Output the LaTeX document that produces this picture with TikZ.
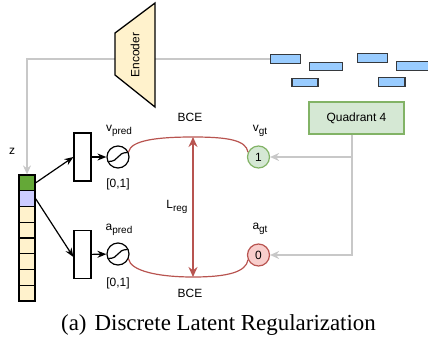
\documentclass[tikz,border=0pt]{standalone}
\usepackage{fontspec}
\setmainfont{Liberation Sans}
\newfontfamily\capfont{Liberation Serif}
\usetikzlibrary{arrows.meta}

\definecolor{encfill}{HTML}{FFF2CC}
\definecolor{barfill}{HTML}{99CCFF}
\definecolor{bardraw}{HTML}{36393D}
\definecolor{quadfill}{HTML}{D5E8D4}
\definecolor{quaddraw}{HTML}{82B366}
\definecolor{redfill}{HTML}{F8CECC}
\definecolor{reddraw}{HTML}{B85450}
\definecolor{zgreen}{HTML}{64A837}
\definecolor{zblue}{HTML}{CCCCFF}
\definecolor{feedgray}{HTML}{C8C8C8}

\newcommand{\lowsub}[1]{\raisebox{-0.3em}{\fontsize{10}{12}\selectfont #1}}

\def\cellh{15.75}

\begin{document}
\begin{tikzpicture}[x=1bp, y=1bp,
  every node/.style={font=\fontsize{12}{14}\selectfont, inner sep=0pt},
  bar/.style={draw=bardraw, fill=barfill, line width=1.1bp, minimum height=8.5bp, minimum width=#1},
  zcell/.style={draw, line width=1.2bp, fill=encfill, minimum width=16bp, minimum height=\cellh bp},
  lin/.style={draw, line width=1.2bp, fill=white, minimum width=17bp, minimum height=48bp},
  sig/.style={circle, draw, line width=1.2bp, minimum size=22bp},
  gtv/.style={circle, draw=quaddraw, fill=quadfill, line width=1.2bp, minimum size=22bp},
  gta/.style={circle, draw=reddraw, fill=redfill, line width=1.2bp, minimum size=22bp},
  feed/.style={draw=feedgray, line width=1.2bp, -{Stealth[length=9bp, width=8bp]}},
  fwd/.style={line width=1.2bp, -{Stealth[length=9bp, width=7bp]}},
  bce/.style={draw=reddraw, line width=1.2bp},
  lossarr/.style={draw=reddraw, line width=1.6bp, {Stealth[length=10bp, width=9bp]}-{Stealth[length=10bp, width=9bp]}}]
\useasboundingbox (0,0) rectangle (428,-343);

\node[bar=31] (bar1) at (285.5,-59) {};
\node[bar=34] (bar2) at (326,-66.5) {};
\node[bar=31] (bar3) at (372.5,-58) {};
\node[bar=36] (bar4) at (414,-66) {};
\node[bar=26] (bar5) at (305,-82.5) {};
\node[bar=27] (bar6) at (391.5,-82) {};

\node[zcell, fill=zgreen] (z1) at (27,{-175-0.5*\cellh}) {};
\node[zcell, fill=zblue] (z2) at (27,{-175-1.5*\cellh}) {};
\foreach \i in {3,...,8}
  \node[zcell] (z\i) at (27,{-175-(\i-0.5)*\cellh}) {};
\node (zlbl) at (12,-151) {z};

\draw[feed] (bar1.west) -| (z1.north);

\draw[line width=1.3bp, fill=encfill] (115,-33) -- (155,-3) -- (155,-107) -- (115,-75) -- cycle;
\node[rotate=90] (enc) at (135,-55) {Encoder};

\node[lin] (vlin) at (82.5,-157) {};
\node[lin] (alin) at (82.5,-254.5) {};
\draw[fwd] (z1.east) -- (vlin.west);
\draw[fwd] (z2.east) -- ([yshift=-2.5bp]alin.west);

\node[sig] (vsig) at (118,-157) {};
\node[sig] (asig) at (118,-254) {};
\draw[fwd] (vlin) -- (vsig);
\draw[fwd] (alin) -- (asig);
\draw[line width=1.2bp] ([shift={(-9.5,-4.5)}]vsig.center) .. controls +(11,0) and +(-11,0) .. ([shift={(9.5,4.5)}]vsig.center);
\draw[line width=1.2bp] ([shift={(-9.5,-4.5)}]asig.center) .. controls +(11,0) and +(-11,0) .. ([shift={(9.5,4.5)}]asig.center);

\node (vpred) at (119,-131) {v\lowsub{pred}};
\node (apred) at (119,-230) {a\lowsub{pred}};
\node (vrange) at (118,-184) {[0,1]};
\node (arange) at (118,-283) {[0,1]};

\node[gtv] (vgt) at (258.5,-157) {1};
\node[gta] (agt) at (258.5,-255) {0};
\node (vgtlbl) at (260,-131) {v\lowsub{gt}};
\node (agtlbl) at (260,-229) {a\lowsub{gt}};

\node[draw=quaddraw, fill=quadfill, line width=1.2bp, minimum width=95bp, minimum height=32bp] (quad) at (356.5,-118) {Quadrant 4};
\draw[feed] ([xshift=-4.5bp]quad.south) |- (vgt);
\draw[feed] ([xshift=-4.5bp]quad.south) |- (agt);

\coordinate (bcetop) at (193,-137);
\coordinate (bcebot) at (193,-277);
\draw[bce] (vsig.25) .. controls +(2,12) and +(-35,0) .. (bcetop) .. controls +(35,0) and +(-2,12) .. (vgt.155);
\draw[bce] (asig.-25) .. controls +(2,-12) and +(-35,0) .. (bcebot) .. controls +(35,0) and +(-2,-12) .. (agt.205);
\draw[lossarr] (bcetop) -- (bcebot);

\node (bcetoplbl) at (190,-117) {BCE};
\node (bcebotlbl) at (190,-293) {BCE};
\node (lreg) at (177,-207) {L\lowsub{reg}};

\node[font=\capfont\fontsize{23}{28}\selectfont] (caption) at (218.5,-325) {(a)\hspace{8bp}Discrete Latent Regularization};
\end{tikzpicture}
\end{document}
